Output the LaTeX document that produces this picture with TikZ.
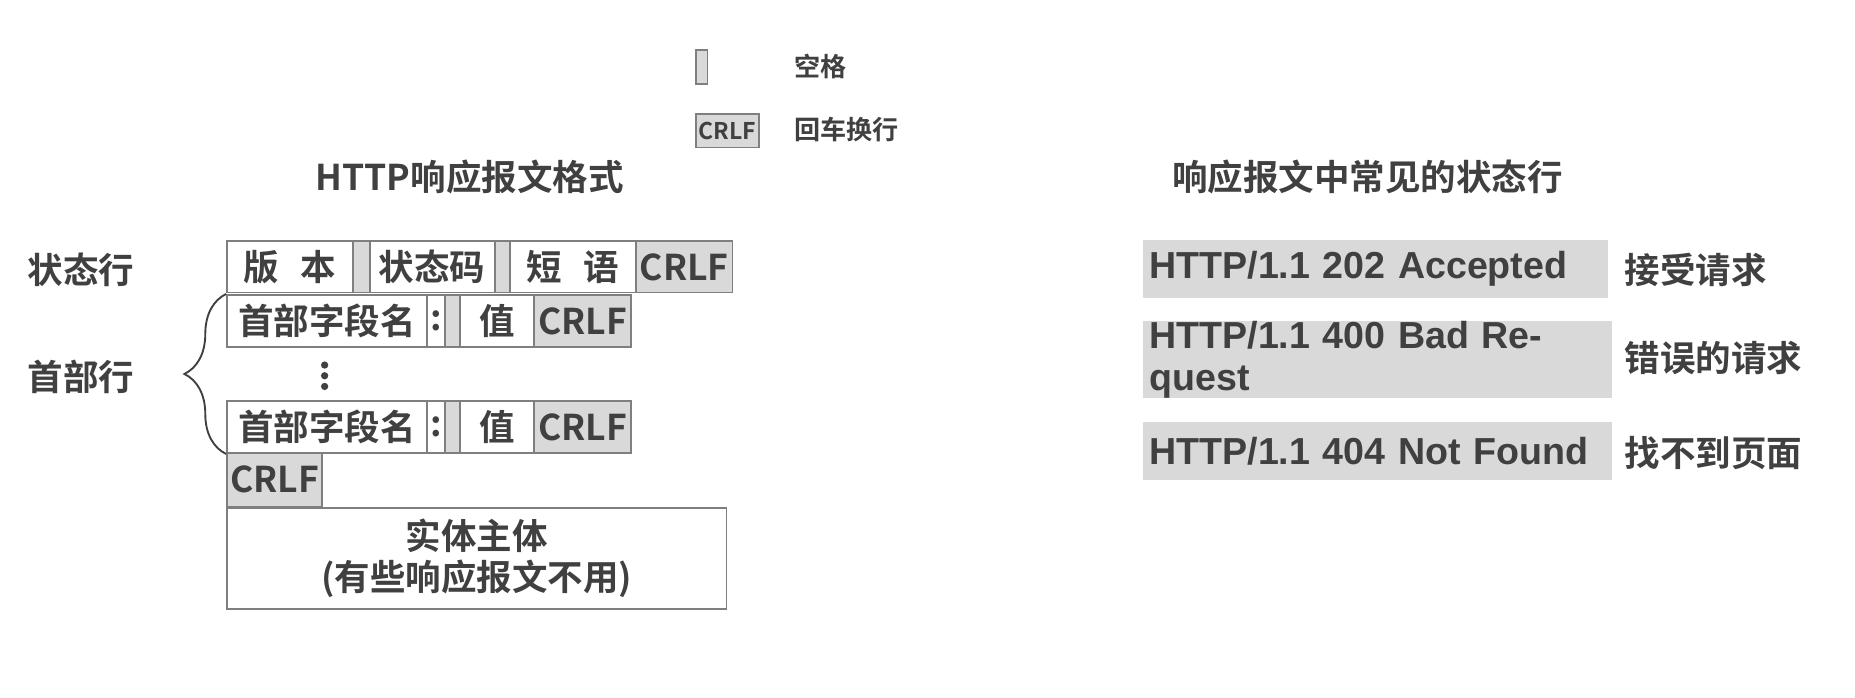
\documentclass[tikz,border=0pt]{standalone}
\usepackage{fontspec}
\setmainfont{Noto Sans CJK SC Bold}
\newfontfamily\latinf{Liberation Sans Bold}
\usetikzlibrary{decorations.pathreplacing}
\definecolor{tx}{HTML}{404040}
\definecolor{gf}{HTML}{D9D9D9}
\definecolor{bd}{HTML}{7F7F7F}
\tikzset{
  fld/.style={draw=bd,line width=0.9pt,inner sep=0pt,text=tx,font=\fontsize{17}{20}\selectfont},
  gfld/.style={fld,fill=gf},
  lbl/.style={text=tx,font=\fontsize{17}{20}\selectfont},
  slbl/.style={text=tx,font=\fontsize{12.5}{15}\selectfont},
  gbar/.style={fill=gf,inner xsep=3pt,inner ysep=0pt,anchor=west,text=tx,font=\latinf\fontsize{18}{20}\selectfont,minimum height=49*0.02cm},
  dot/.style={circle,fill=tx,inner sep=0pt,minimum size=3.5pt}
}
\begin{document}
\begin{tikzpicture}[x=0.02cm,y=-0.02cm,text=tx]
\useasboundingbox (0,0) rectangle (1560,587);
% legend
\node[gfld,minimum width=10*0.02cm,minimum height=29*0.02cm] (lsp) at (590,56.5) {};
\node[slbl,anchor=west] (lspt) at (662,56) {空格};
\node[gfld,minimum width=53*0.02cm,minimum height=28*0.02cm,font=\fontsize{11}{13}\selectfont] (lcr) at (611.5,110) {CRLF};
\node[slbl,anchor=west] (lcrt) at (662,109) {回车换行};
% titles
\node[lbl] (t1) at (395,149) {HTTP响应报文格式};
\node[lbl] (t2) at (1150,149) {响应报文中常见的状态行};
\node[lbl] (sl) at (68,227) {状态行};
\node[lbl] (hl) at (68,317) {首部行};
% row1
\node[fld,minimum width=106*0.02cm,minimum height=43*0.02cm] (v) at (244,224.5) {版\hspace{0.6em}本};
\node[gfld,minimum width=14*0.02cm,minimum height=43*0.02cm] (s1) at (304,224.5) {};
\node[fld,minimum width=105*0.02cm,minimum height=43*0.02cm] (sc) at (363.5,224.5) {状态码};
\node[gfld,minimum width=13*0.02cm,minimum height=43*0.02cm] (s2) at (422.5,224.5) {};
\node[fld,minimum width=106*0.02cm,minimum height=43*0.02cm] (ph) at (482,224.5) {短\hspace{0.6em}语};
\node[gfld,minimum width=81*0.02cm,minimum height=43*0.02cm] (c1) at (575.5,224.5) {CRLF};
% header rows
\foreach \n/\y in {a/270,b/359}{
\node[fld,minimum width=168*0.02cm,minimum height=44*0.02cm] (hn\n) at (275,\y) {首部字段名};
\node[fld,minimum width=15*0.02cm,minimum height=44*0.02cm] (co\n) at (366.5,\y) {:};
\node[gfld,minimum width=13*0.02cm,minimum height=44*0.02cm] (sp\n) at (380.5,\y) {};
\node[fld,minimum width=62*0.02cm,minimum height=44*0.02cm] (va\n) at (418,\y) {值};
\node[gfld,minimum width=82*0.02cm,minimum height=44*0.02cm] (cr\n) at (490,\y) {CRLF};
}
\node[dot] (d1a) at (273,307) {};
\node[dot] (d1b) at (273,316) {};
\node[dot] (d1c) at (273,325) {};
\node[gfld,minimum width=80*0.02cm,minimum height=45*0.02cm] (c4) at (231,403.5) {CRLF};
\node[fld,minimum width=420*0.02cm,minimum height=85*0.02cm,align=center] (body) at (401,469.5) {实体主体\\(有些响应报文不用)};
\draw[tx,line width=0.9pt,decorate,decoration={brace,amplitude=20pt}] (hnb.south west) -- (hna.north west);
% right side
\node[gbar,minimum width=388*0.02cm,text width=380*0.02cm] (r1) at (961,226) {HTTP/1.1 202 Accepted};
\node[gbar,minimum width=392*0.02cm,text width=384*0.02cm] (r2) at (961,302.5) {HTTP/1.1 400 Bad Request};
\node[gbar,minimum width=392*0.02cm,text width=384*0.02cm] (r3) at (961,379.5) {HTTP/1.1 404 Not Found};
\node[lbl] (e1) at (1426,227) {接受请求};
\node[lbl] (e2) at (1441,301) {错误的请求};
\node[lbl] (e3) at (1441,381) {找不到页面};
\end{tikzpicture}
\end{document}
